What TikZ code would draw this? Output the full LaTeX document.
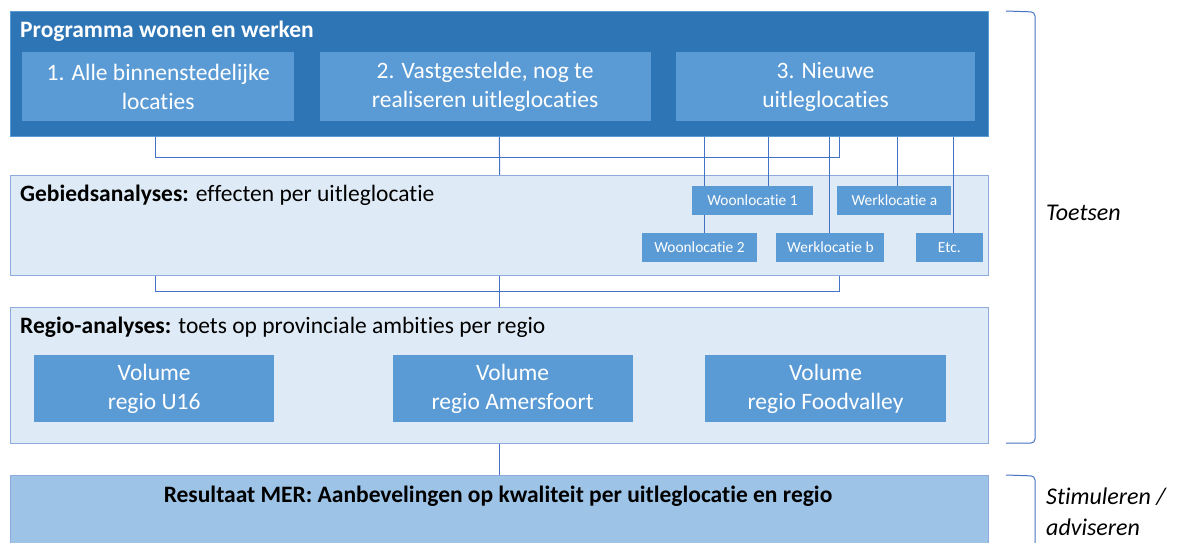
\documentclass[tikz,border=0pt]{standalone}
\usepackage{fontspec}
\setmainfont[Ligatures=NoCommon]{Carlito}
\usepackage{xcolor}
\usepackage{tikz}
\usetikzlibrary{positioning}
\definecolor{progblue}{HTML}{2E75B6}
\definecolor{itemblue}{HTML}{5B9BD5}
\definecolor{paleblue}{HTML}{DEEBF7}
\definecolor{edgeblue}{HTML}{8FAADC}
\definecolor{resultblue}{HTML}{9DC3E6}
\definecolor{lineblue}{HTML}{4472C4}
\tikzstyle{panel} = [rectangle, anchor=north west, draw=edgeblue, line width=1.2pt, fill=paleblue, inner sep=0pt]
\tikzstyle{block} = [rectangle, fill=itemblue, text=white, align=center, inner sep=0pt, minimum height=69pt, font=\fontsize{23.5}{29}\selectfont]
\tikzstyle{tag} = [rectangle, fill=itemblue, text=white, inner sep=0pt, minimum height=29pt, font=\fontsize{15.4}{18}\selectfont]
\tikzstyle{heading} = [anchor=west, inner sep=0pt, font=\fontsize{23.5}{29}\selectfont]
\tikzstyle{side} = [anchor=west, inner sep=0pt, align=left, font=\fontsize{24}{31}\selectfont\itshape]
\tikzstyle{link} = [draw=lineblue, line width=1pt]
\tikzstyle{bracket} = [draw=lineblue, line width=1pt, rounded corners=4pt]
\pgfdeclarelayer{panels}
\pgfdeclarelayer{wires}
\pgfsetlayers{panels,wires,main}

\begin{document}
\begin{tikzpicture}[x=1pt, y=-1pt]
    \useasboundingbox (0,0) rectangle (1195,543);

    % Panels
    \begin{pgfonlayer}{panels}
    \node[panel, fill=progblue, draw=itemblue, line width=0.8pt, minimum width=978pt, minimum height=125pt] (prog) at (10,11) {};
    \node[panel, minimum width=978pt, minimum height=100pt] (gebied) at (10,175) {};
    \node[panel, minimum width=978pt, minimum height=136pt] (regio) at (10,307) {};
    \node[panel, fill=resultblue, minimum width=978pt, minimum height=90pt] (result) at (10,475) {};
    \end{pgfonlayer}

    % Programma wonen en werken
    \node[heading, text=white, font=\fontsize{23.5}{29}\selectfont\bfseries] (progtitle) at (20,31) {Programma wonen en werken};
    \node[block, minimum width=272pt, anchor=north west] (loc1) at (22,52) {1. Alle binnenstedelijke\\locaties};
    \node[block, minimum width=331pt, right=25pt of loc1] (loc2) {2. Vastgestelde, nog te\\realiseren uitleglocaties};
    \node[block, minimum width=299pt, right=25pt of loc2] (loc3) {3. Nieuwe\\uitleglocaties};

    % Gebiedsanalyses
    \node[heading] (gebiedtitle) at (20,195) {\textbf{Gebiedsanalyses:} effecten per uitleglocatie};
    \node[tag, minimum width=121pt] (woon1) at (752.5,200.5) {Woonlocatie 1};
    \node[tag, minimum width=114pt, right=24pt of woon1] (werka) {Werklocatie a};
    \node[tag, minimum width=115pt] (woon2) at (699.5,247.5) {Woonlocatie 2};
    \node[tag, minimum width=108pt, right=19pt of woon2] (werkb) {Werklocatie b};
    \node[tag, minimum width=67pt, right=31pt of werkb] (etc) {Etc.};

    % Regio-analyses
    \node[heading] (regiotitle) at (20,327) {\textbf{Regio-analyses:} toets op provinciale ambities per regio};
    \node[block, minimum width=240pt, minimum height=67pt, anchor=north west] (u16) at (34,355) {Volume\\regio U16};
    \node[block, minimum width=240pt, minimum height=67pt, right=118pt of u16] (amers) {Volume\\regio Amersfoort};
    \node[block, minimum width=241pt, minimum height=67pt, right=72pt of amers] (food) {Volume\\regio Foodvalley};

    % Resultaat
    \node[heading, anchor=center, font=\fontsize{23.5}{29}\selectfont\bfseries] (resulttitle) at (498,496) {Resultaat MER: Aanbevelingen op kwaliteit per uitleglocatie en regio};

    % Side labels
    \node[side] (toetsen) at (1046,213) {Toetsen};
    \node[side] (stimuleren) at (1046,512) {Stimuleren /\\adviseren};
    \draw[bracket] (1006,11) -- (1035,12) -- (1035,443) -- (1006,443);
    \draw[bracket] (1006,475) -- (1035,476) -- (1035,560);

    % Connections
    \coordinate (topbusl) at (155,157);
    \coordinate (topbusr) at (839,157);
    \coordinate (lowbusl) at (155,291);
    \coordinate (lowbusr) at (839,291);
    \coordinate (woon1in) at ([xshift=16pt]woon1.north);
    \coordinate (woon2in) at ([xshift=4.5pt]woon2.north);
    \coordinate (werkain) at ([xshift=3pt]werka.north);
    \coordinate (werkbin) at ([xshift=-1pt]werkb.north);
    \coordinate (etcin) at ([xshift=4.5pt]etc.north);
    \begin{pgfonlayer}{wires}
    \draw[link] (prog.south -| topbusl) -- (topbusl) -- (topbusr) -- (prog.south -| topbusr);
    \draw[link] (prog.south) -- (gebied.north);
    \draw[link] (prog.south -| woon1in) -- (woon1in);
    \draw[link] (prog.south -| woon2in) -- (woon2in);
    \draw[link] (prog.south -| werkain) -- (werkain);
    \draw[link] (prog.south -| werkbin) -- (werkbin);
    \draw[link] (prog.south -| etcin) -- (etcin);
    \draw[link] (gebied.south -| lowbusl) -- (lowbusl) -- (lowbusr) -- (gebied.south -| lowbusr);
    \draw[link] (gebied.south) -- (regio.north);
    \draw[link] (regio.south) -- (result.north);
    \end{pgfonlayer}
\end{tikzpicture}
\end{document}
